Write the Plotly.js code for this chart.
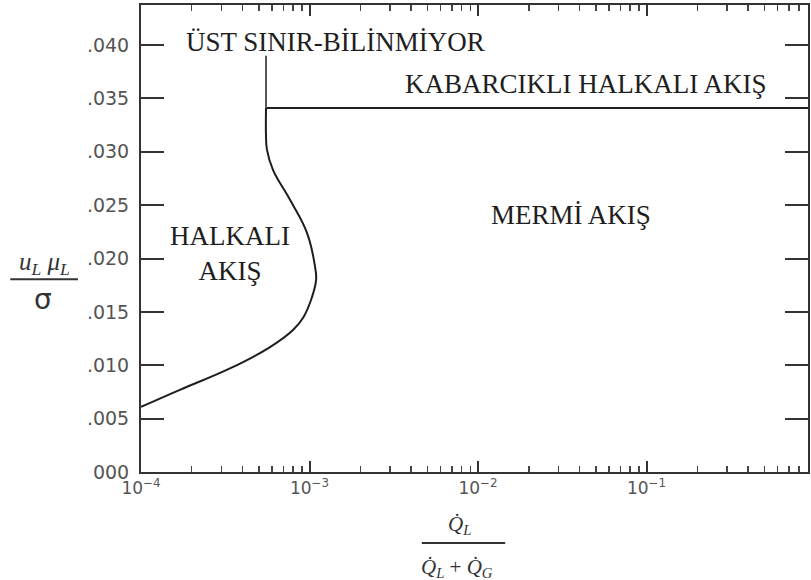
<!DOCTYPE html>
<html>
<head>
<meta charset="utf-8">
<script src="https://cdn.plot.ly/plotly-3.0.1.min.js"></script>
<style>
  html, body { margin: 0; padding: 0; background: #ffffff; }
  #chart { width: 811px; height: 580px; }
</style>
</head>
<body>
<div id="chart"></div>
<script>
// Flow-regime map: liquid fraction (log scale) vs. u_L·μ_L/σ

// Annular / slug boundary, traced from low to high ordinate
const boundaryX = [1.0e-4, 1.70e-4, 3.37e-4, 5.83e-4, 7.98e-4, 9.2e-4, 1.03e-3, 1.094e-3, 1.079e-3, 9.66e-4, 7.66e-4, 6.07e-4, 5.59e-4, 5.52e-4, 5.52e-4];
const boundaryY = [0.0061, 0.0077, 0.0097, 0.0117, 0.0133, 0.0145, 0.0163, 0.0180, 0.0192, 0.0224, 0.0255, 0.0283, 0.0302, 0.0314, 0.0341];

// Bubbly-annular limit (horizontal) and the unknown upper limit (vertical)
const bubblyX = [5.52e-4, 1.0];
const bubblyY = [0.0341, 0.0341];
const upperX = [5.52e-4, 5.52e-4];
const upperY = [0.0341, 0.0390];

// Axis ticks
const xTickVals = [1e-4, 1e-3, 1e-2, 1e-1];
const xTickText = ['10<sup>−4</sup>', '10<sup>−3</sup>', '10<sup>−2</sup>', '10<sup>−1</sup>'];
const xMinorVals = [
  2e-4, 3e-4, 4e-4, 5e-4, 6e-4, 7e-4, 8e-4, 9e-4,
  2e-3, 3e-3, 4e-3, 5e-3, 6e-3, 7e-3, 8e-3, 9e-3,
  2e-2, 3e-2, 4e-2, 5e-2, 6e-2, 7e-2, 8e-2, 9e-2,
  2e-1, 3e-1, 4e-1, 5e-1, 6e-1, 7e-1, 8e-1, 9e-1
];
const yTickVals = [0, 0.005, 0.010, 0.015, 0.020, 0.025, 0.030, 0.035, 0.040];
const yTickText = ['000', '.005', '.010', '.015', '.020', '.025', '.030', '.035', '.040'];

// Region labels
const regionLabels = ['ÜST SINIR-BİLİNMİYOR', 'KABARCIKLI HALKALI AKIŞ', 'MERMİ AKIŞ', 'HALKALI<br>AKIŞ'];

const ink = '#1e1e1e';
const serif = 'Liberation Serif, Times New Roman, serif';
const xRange = [-4, -0.042];

const traces = [
  { x: boundaryX, y: boundaryY, mode: 'lines', type: 'scatter',
    line: { color: ink, width: 2, shape: 'spline', smoothing: 1.2 }, hoverinfo: 'skip' },
  { x: bubblyX, y: bubblyY, mode: 'lines', type: 'scatter',
    line: { color: ink, width: 2 }, hoverinfo: 'skip' },
  // plotted on the overlaid minor-tick axis (identical scale)
  { x: upperX, y: upperY, xaxis: 'x2', yaxis: 'y', mode: 'lines', type: 'scatter',
    line: { color: '#555', width: 2 }, hoverinfo: 'skip' }
];

const textFont = { family: serif, size: 27, color: ink };

const layout = {
  width: 811, height: 580,
  margin: { l: 141, r: 3, t: 5, b: 108, pad: 0 },
  paper_bgcolor: '#ffffff', plot_bgcolor: '#ffffff',
  showlegend: false,
  xaxis: {
    type: 'log', range: xRange,
    tickmode: 'array', tickvals: xTickVals, ticktext: xTickText,
    ticks: 'inside', ticklen: 11, tickwidth: 2, tickcolor: '#333',
    showline: true, linecolor: '#333', linewidth: 2, mirror: 'ticks',
    showgrid: false, zeroline: false,
    tickfont: { family: 'DejaVu Sans, sans-serif', size: 17, color: '#555' }
  },
  // second x axis carrying the in-between decade ticks, bottom and top
  xaxis2: {
    type: 'log', range: xRange, overlaying: 'x', anchor: 'y', side: 'bottom',
    tickmode: 'array', tickvals: xMinorVals, showticklabels: false,
    ticks: 'inside', ticklen: 6, tickwidth: 1.5, tickcolor: '#444',
    showline: false, mirror: 'ticks', showgrid: false, zeroline: false
  },
  yaxis: {
    range: [0, 0.04375],
    tickmode: 'array', tickvals: yTickVals, ticktext: yTickText,
    ticks: 'inside', ticklen: 23, tickwidth: 2, tickcolor: '#333',
    showline: true, linecolor: '#333', linewidth: 2, mirror: 'ticks',
    showgrid: false, zeroline: false,
    tickfont: { family: 'DejaVu Sans, sans-serif', size: 19, color: '#555' },
    ticklabelstandoff: 6
  },
  annotations: [
    { text: regionLabels[0], xref: 'paper', yref: 'paper', x: 0.291, y: 0.921, showarrow: false, font: textFont, xanchor: 'center', yanchor: 'middle' },
    { text: regionLabels[1], xref: 'paper', yref: 'paper', x: 0.667, y: 0.831, showarrow: false, font: textFont, xanchor: 'center', yanchor: 'middle' },
    { text: regionLabels[2], xref: 'paper', yref: 'paper', x: 0.645, y: 0.550, showarrow: false, font: textFont, xanchor: 'center', yanchor: 'middle' },
    { text: regionLabels[3], xref: 'paper', yref: 'paper', x: 0.133, y: 0.467, showarrow: false, font: textFont, xanchor: 'center', yanchor: 'middle' },
    // y-axis title as a fraction
    { text: '<i>u<sub>L</sub> μ<sub>L</sub></i>', xref: 'paper', yref: 'paper', x: -0.144, y: 0.4475, showarrow: false,
      font: { family: serif, size: 25, color: '#333' }, xanchor: 'center', yanchor: 'middle' },
    { text: 'σ', xref: 'paper', yref: 'paper', x: -0.147, y: 0.370, showarrow: false,
      font: { family: 'DejaVu Sans, sans-serif', size: 28, color: '#333' }, xanchor: 'center', yanchor: 'middle' },
    // x-axis title as a fraction
    { text: '<i>Q̇<sub>L</sub></i>', xref: 'paper', yref: 'paper', x: 0.478, y: -0.1135, showarrow: false,
      font: { family: serif, size: 21, color: '#333' }, xanchor: 'center', yanchor: 'middle' },
    { text: '<i>Q̇<sub>L</sub></i> + <i>Q̇<sub>G</sub></i>', xref: 'paper', yref: 'paper', x: 0.474, y: -0.2056, showarrow: false,
      font: { family: serif, size: 21, color: '#333' }, xanchor: 'center', yanchor: 'middle' }
  ],
  shapes: [
    { type: 'line', xref: 'paper', yref: 'paper', x0: -0.196, x1: -0.0945, y0: 0.413, y1: 0.413, line: { color: '#333', width: 2 } },
    { type: 'line', xref: 'paper', yref: 'paper', x0: 0.421, x1: 0.546, y0: -0.152, y1: -0.152, line: { color: '#333', width: 2 } }
  ]
};

Plotly.newPlot('chart', traces, layout, { staticPlot: true, displayModeBar: false });
</script>
</body>
</html>
